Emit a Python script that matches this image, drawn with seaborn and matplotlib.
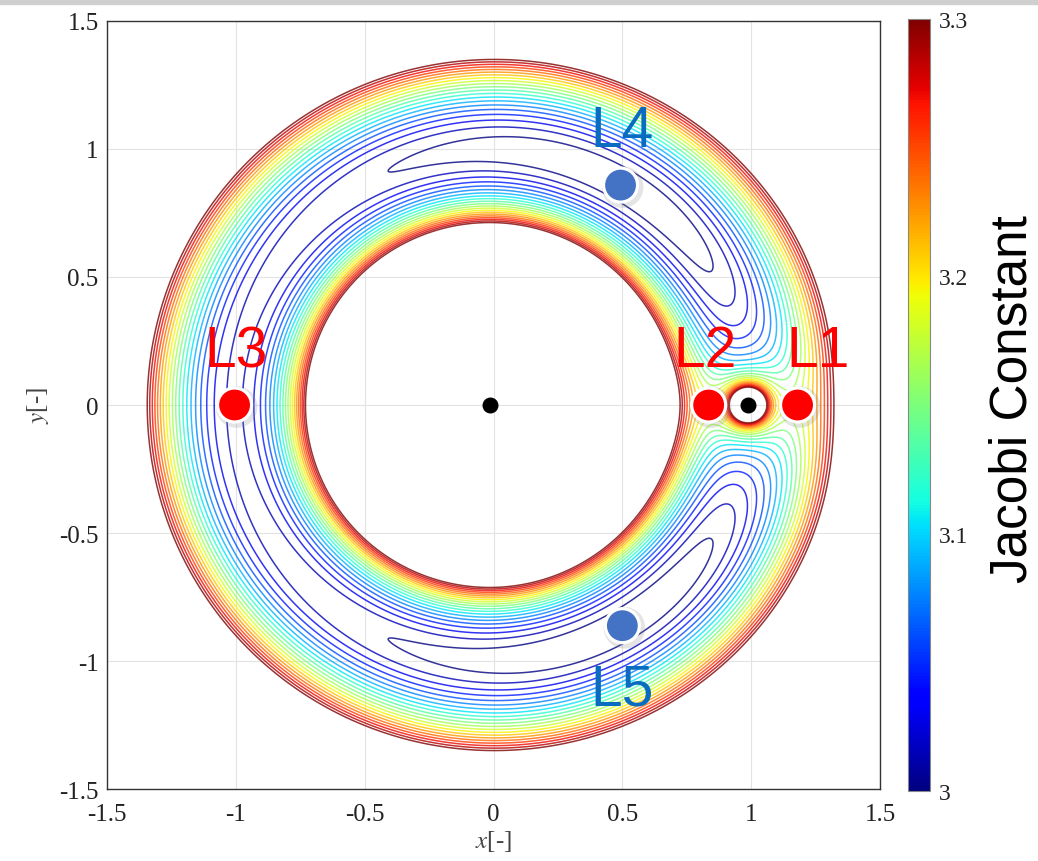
import numpy as np
import pandas as pd
import matplotlib
matplotlib.use("Agg")
import matplotlib.pyplot as plt
import seaborn as sns

# ---- data ----
mu = 0.01215                      # Earth-Moon mass ratio
levels = [3.000, 3.015, 3.030, 3.045, 3.060, 3.075, 3.090, 3.105,
          3.120, 3.135, 3.150, 3.165, 3.180, 3.195, 3.210, 3.225,
          3.240, 3.255, 3.270, 3.285, 3.300]
cbar_ticks = [3.0, 3.1, 3.2, 3.3]
cbar_ticklabels = ["3", "3.1", "3.2", "3.3"]
axis_ticks = [-1.5, -1, -0.5, 0, 0.5, 1, 1.5]
axis_ticklabels = ["-1.5", "-1", "-0.5", "0", "0.5", "1", "1.5"]

lp_names = ["L1", "L2", "L3", "L4", "L5"]
lp_x = [1.18, 0.835, -1.005, 0.493, 0.50]
lp_y = [0.0, 0.0, 0.0, 0.859, -0.862]
lp_kind = ["collinear", "collinear", "collinear", "triangular", "triangular"]
label_x = [1.26, 0.82, -1.00, 0.50, 0.50]
label_y = [0.21, 0.21, 0.21, 1.07, -1.11]

body_x = [-mu, 1 - mu]
body_y = [0.0, 0.0]

# ---- field ----
gx = np.linspace(-1.5, 1.5, 1501)
gy = np.linspace(-1.5, 1.5, 1501)
X, Y = np.meshgrid(gx, gy)
r1 = np.sqrt((X + mu) ** 2 + Y ** 2)
r2 = np.sqrt((X - 1 + mu) ** 2 + Y ** 2)
C = X ** 2 + Y ** 2 + 2 * (1 - mu) / r1 + 2 * mu / r2

sns.set_theme(style="white")
plt.rcParams["font.family"] = ["Liberation Serif", "DejaVu Serif"]
plt.rcParams["mathtext.fontset"] = "stix"

fig = plt.figure(figsize=(10.38, 8.62), dpi=100)
ax = fig.add_axes([0.1031, 0.0835, 0.7447, 0.8910])
cax = fig.add_axes([0.8748, 0.0812, 0.0212, 0.8956])

# screenshot strip on top
fig.patches.append(plt.Rectangle((0, 0.994), 1.0, 0.006, transform=fig.transFigure,
                                 color="#cfcfcf", zorder=0))

ax.set_axisbelow(True)
ax.grid(True, color="#e3e3e3", linewidth=0.8)
cs = ax.contour(X, Y, C, levels=levels, cmap="jet", vmin=3.0, vmax=3.3,
                linewidths=1.1, alpha=0.8, zorder=2)

df = pd.DataFrame({"x": lp_x, "y": lp_y, "kind": lp_kind, "name": lp_names})
# soft shadows
ax.scatter(np.array(lp_x) + 0.008, np.array(lp_y) - 0.008, s=900, color="#888888",
           alpha=0.22, edgecolors="none", zorder=3)
sns.scatterplot(data=df, x="x", y="y", hue="kind",
                palette={"collinear": "#ff0000", "triangular": "#4472c4"},
                s=600, edgecolor="white", linewidth=2.3, legend=False, ax=ax, zorder=4)

ax.scatter(body_x, body_y, s=110, color="black", zorder=5)

label_colors = {"collinear": "#ff0000", "triangular": "#0a6cc0"}
for n, tx, ty, k in zip(lp_names, label_x, label_y, lp_kind):
    ax.text(tx, ty, n, color=label_colors[k], fontsize=41,
            family=["Liberation Sans", "DejaVu Sans"], ha="center", va="center", zorder=6)

ax.set_xlim(-1.5, 1.5)
ax.set_ylim(-1.5, 1.5)
ax.set_xticks(axis_ticks)
ax.set_xticklabels(axis_ticklabels)
ax.set_yticks(axis_ticks)
ax.set_yticklabels(axis_ticklabels)
ax.tick_params(direction="in", length=5, width=0.8, labelsize=18, color="#333333",
               labelcolor="#222222")
ax.tick_params(axis="x", pad=10)
ax.tick_params(axis="y", pad=6)
ax.set_xlabel(r"$x$[-]", fontsize=18, color="#444444", labelpad=2)
ax.set_ylabel(r"$y$[-]", fontsize=18, color="#444444", labelpad=6)
for sp in ax.spines.values():
    sp.set_visible(True)
    sp.set_color("#333333")
    sp.set_linewidth(1.0)

norm = matplotlib.colors.Normalize(vmin=3.0, vmax=3.3)
cb = fig.colorbar(matplotlib.cm.ScalarMappable(norm=norm, cmap="jet"), cax=cax)
cb.set_ticks(cbar_ticks)
cb.set_ticklabels(cbar_ticklabels)
cb.ax.tick_params(labelsize=17, length=0, pad=6, labelcolor="#222222")
cb.outline.set_edgecolor("#888888")
cb.outline.set_linewidth(0.8)
fig.text(0.976, 0.537, "Jacobi Constant", rotation=90, fontsize=37,
         family=["Liberation Sans", "DejaVu Sans"], ha="center", va="center", color="black")

fig.savefig("out.png", dpi=100)
